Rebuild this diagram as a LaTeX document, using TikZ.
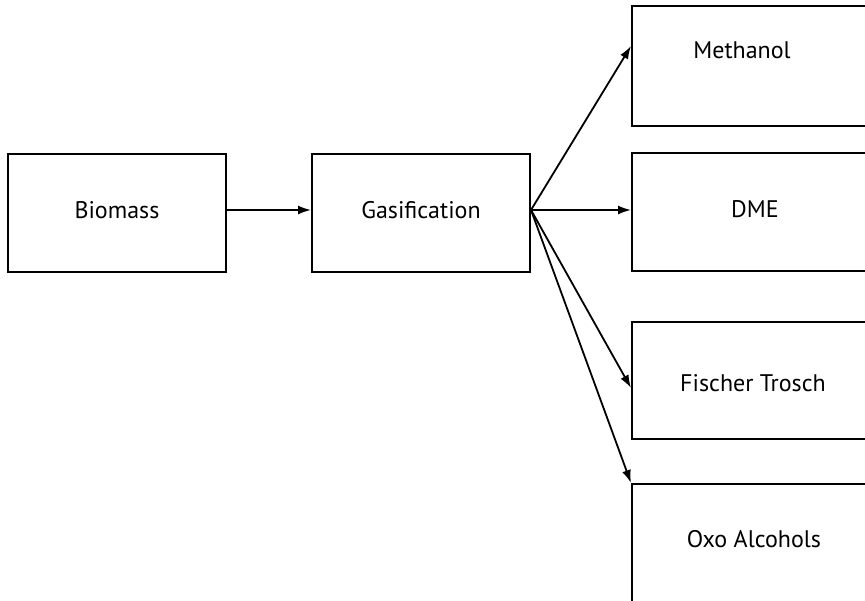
\documentclass[tikz,border=0pt]{standalone}
\usepackage{fontspec}
\setmainfont{PT Sans}
\usetikzlibrary{arrows.meta,calc}
\tikzset{
  box/.style={draw, line width=2pt, rectangle, inner sep=0pt},
  lbl/.style={font=\fontsize{24}{28}\selectfont, inner sep=0pt},
  arr/.style={line width=1.8pt, -{Latex[length=13pt,width=9pt]}, shorten >=0pt}
}
\begin{document}
\begin{tikzpicture}[x=1pt,y=-1pt]
\useasboundingbox (0,0) rectangle (865,601);
\clip (0,0) rectangle (865,601);
\fill[white] (0,0) rectangle (865,601);
% boxes
\node[box, minimum width=218pt, minimum height=118pt] (bio) at (117,213) {};
\node[box, minimum width=218pt, minimum height=118pt] (gas) at (421,213) {};
\node[box, minimum width=250pt, minimum height=120pt] (meth) at (757,66) {};
\node[box, minimum width=250pt, minimum height=118pt] (dme) at (757,212) {};
\node[box, minimum width=250pt, minimum height=117pt] (ft) at (757,380.5) {};
\node[box, minimum width=250pt, minimum height=130pt] (oxo) at (757,549) {};
% texts
\node[lbl] (tbio) at (117,210) {Biomass};
\node[lbl] (tgas) at (421,210) {Gasification};
\node[lbl] (tmeth) at (742,50) {Methanol};
\node[lbl] (tdme) at (755,209) {DME};
\node[lbl] (tft) at (753,383) {Fischer Trosch};
\node[lbl] (toxo) at (754,539) {Oxo Alcohols};
% connector endpoints
\coordinate (gout) at (gas.east |- 0,210);
\coordinate (bout) at (bio.east |- 0,210);
\coordinate (gin) at (gas.west |- 0,210);
\coordinate (methin) at (meth.west |- 0,46);
\coordinate (dmein) at (dme.west |- 0,210);
\coordinate (ftin) at (ft.west |- 0,388);
\coordinate (oxoin) at (oxo.north west);
% arrows
\draw[arr] (bout) -- (gin);
\draw[arr] (gout) -- (methin);
\draw[arr] (gout) -- (dmein);
\draw[arr] (gout) -- (ftin);
\draw[arr] (gout) -- (oxoin);
\end{tikzpicture}
\end{document}
